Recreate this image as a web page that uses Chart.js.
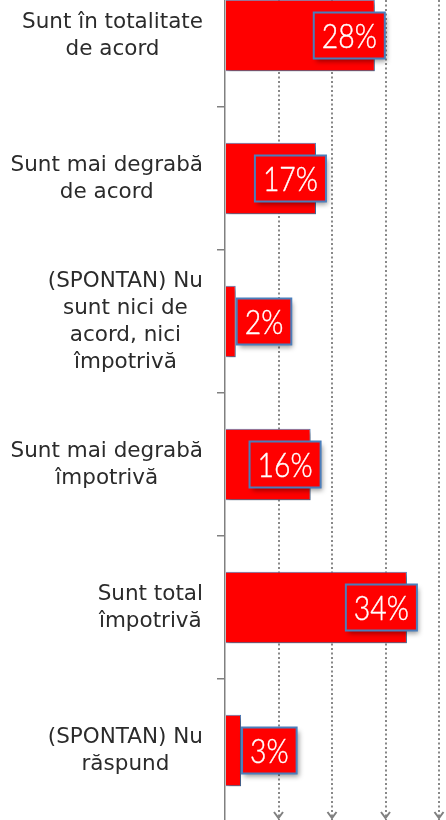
<!DOCTYPE html>
<html>
<head>
<meta charset="utf-8">
<script src="https://cdn.jsdelivr.net/npm/chart.js@4/dist/chart.umd.min.js"></script>
<style>
  html, body { margin: 0; padding: 0; background: #ffffff; overflow: hidden; width: 446px; height: 820px; }
  #wrap { position: absolute; left: 0; top: -36px; width: 446px; height: 858px; }
</style>
</head>
<body>
<div id="wrap"><canvas id="c"></canvas></div>
<script>
// ---- data ----
const categories = [
  ["Sunt în totalitate", "de acord"],
  ["Sunt mai degrabă", "de acord"],
  ["(SPONTAN) Nu", "sunt nici de", "acord, nici", "împotrivă"],
  ["Sunt mai degrabă", "împotrivă"],
  ["Sunt total", "împotrivă"],
  ["(SPONTAN) Nu", "răspund"]
];
const values = [28, 17, 2, 16, 34, 3];
const xTicks = [0, 10, 20, 30, 40];

// ---- plugins ----
const barShadow = {
  id: 'barShadow',
  beforeDatasetsDraw(chart) {
    const ctx = chart.ctx;
    ctx.save();
    ctx.shadowColor = 'rgba(0,0,0,0.35)';
    ctx.shadowBlur = 4;
    ctx.shadowOffsetX = 2;
    ctx.shadowOffsetY = 3;
  },
  afterDatasetsDraw(chart) {
    chart.ctx.restore();
  }
};

const categoryLabels = {
  id: 'categoryLabels',
  afterDraw(chart) {
    const ctx = chart.ctx;
    const ys = chart.scales.y;
    const right = chart.chartArea.left - 22;
    const lh = 27;
    ctx.save();
    ctx.font = '21.5px "DejaVu Sans"';
    ctx.fillStyle = '#2b2b2b';
    ctx.textAlign = 'center';
    ctx.textBaseline = 'middle';
    categories.forEach((lines, i) => {
      const cy = ys.getPixelForValue(i);
      let w = 0;
      lines.forEach(l => { w = Math.max(w, ctx.measureText(l).width); });
      const cx = right - w / 2;
      lines.forEach((l, j) => {
        ctx.fillText(l, cx, cy + (j - (lines.length - 1) / 2) * lh);
      });
    });
    ctx.restore();
  }
};

const valueBoxes = {
  id: 'valueBoxes',
  afterDatasetsDraw(chart) {
    const ctx = chart.ctx;
    const meta = chart.getDatasetMeta(0);
    const sx = 0.86;
    ctx.save();
    ctx.font = '300 33px Lato';
    meta.data.forEach((bar, i) => {
      const txt = values[i] + '%';
      const m = ctx.measureText(txt);
      const tw = m.width * sx;
      const bw = tw + 16, bh = 46;
      const cy = bar.y;
      let left;
      if (values[i] >= 10) left = bar.x + 10 - bw; else left = bar.x + 1;
      const top = cy - bh / 2;
      ctx.save();
      ctx.shadowColor = 'rgba(0,0,0,0.4)';
      ctx.shadowBlur = 5;
      ctx.shadowOffsetX = 2;
      ctx.shadowOffsetY = 3;
      ctx.fillStyle = '#ff0000';
      ctx.fillRect(left, top, bw, bh);
      ctx.restore();
      ctx.lineWidth = 2;
      ctx.strokeStyle = '#4a7ebb';
      ctx.strokeRect(left, top, bw, bh);
      const asc = ctx.measureText('0').actualBoundingBoxAscent;
      ctx.save();
      ctx.translate(left + bw / 2, cy + asc / 2);
      ctx.scale(sx, 1);
      ctx.fillStyle = '#ffffff';
      ctx.strokeStyle = '#ffffff';
      ctx.lineWidth = 0.4;
      ctx.lineJoin = 'round';
      ctx.textAlign = 'center';
      ctx.textBaseline = 'alphabetic';
      ctx.fillText(txt, 0, 0);
      ctx.strokeText(txt, 0, 0);
      ctx.restore();
    });
    ctx.restore();
  }
};

const gridArrows = {
  id: 'gridArrows',
  afterDraw(chart) {
    const ctx = chart.ctx;
    const xs = chart.scales.x;
    const tip = chart.chartArea.bottom - 4;
    ctx.save();
    ctx.strokeStyle = '#808080';
    ctx.lineWidth = 2;
    xTicks.forEach(v => {
      if (v === 0) return;
      const x = xs.getPixelForValue(v);
      ctx.beginPath();
      ctx.moveTo(x - 4.5, tip - 6);
      ctx.lineTo(x, tip);
      ctx.lineTo(x + 4.5, tip - 6);
      ctx.stroke();
    });
    ctx.restore();
  }
};

new Chart(document.getElementById('c'), {
  type: 'bar',
  data: {
    labels: categories,
    datasets: [{
      data: values,
      backgroundColor: '#ff0000',
      borderColor: '#4a7ebb',
      borderWidth: 1,
      categoryPercentage: 1.0,
      barPercentage: 0.5
    }]
  },
  options: {
    indexAxis: 'y',
    responsive: true,
    maintainAspectRatio: false,
    animation: false,
    layout: { padding: { left: 0, right: 7, top: 0, bottom: 0 } },
    plugins: { legend: { display: false }, tooltip: { enabled: false } },
    scales: {
      x: {
        type: 'linear',
        min: 0,
        max: 40,
        afterBuildTicks: s => { s.ticks = xTicks.map(v => ({ value: v })); },
        ticks: { display: false },
        grid: {
          drawTicks: false,
          lineWidth: 2,
          color: ctx => (ctx.tick && ctx.tick.value === 0) ? 'rgba(0,0,0,0)' : '#888888'
        },
        border: { display: false, dash: [2, 2.5] }
      },
      y: {
        ticks: { display: false },
        afterFit: s => { s.width = 225; },
        grid: {
          drawOnChartArea: false,
          drawTicks: true,
          tickLength: 8,
          color: '#808080',
          lineWidth: 1.5
        },
        border: { display: true, color: '#808080', width: 1.5 }
      }
    }
  },
  plugins: [barShadow, valueBoxes, categoryLabels, gridArrows]
});
</script>
</body>
</html>
